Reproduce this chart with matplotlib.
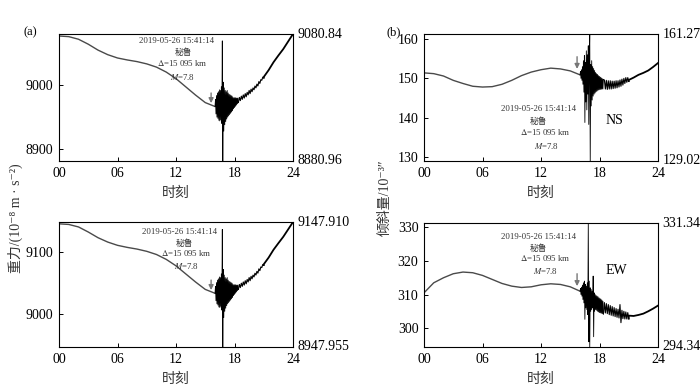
import numpy as np
import matplotlib
matplotlib.use("Agg")
import matplotlib.pyplot as plt

plt.rcParams['font.family'] = ['Liberation Serif', 'Noto Sans CJK SC', 'DejaVu Serif']
plt.rcParams['mathtext.fontset'] = 'stix'
plt.rcParams['axes.unicode_minus'] = False

# ---------------- data ----------------
hours_pre = [0, 1, 2, 3, 4, 5, 6, 7, 8, 9, 10, 11, 12, 13, 14, 15, 16]
hours_post = [21.0, 21.5, 22, 22.5, 23, 23.5, 24]
quake_t0, quake_t1 = 16.0, 18.4   # dense trace 0.05 h spacing
after_t0, after_t1 = 18.5, 21.0   # noisy trace 0.1 h spacing

# (a) gravity, upper station
g1_pre = [9077.7, 9076.7, 9072.6, 9064.8, 9055.5, 9048.3, 9043.1, 9040.0, 9037.4,
          9033.8, 9028.7, 9020.9, 9010.6, 8997.7, 8984.8, 8972.9, 8966.7]
g1_quake = [8967, 8978, 8955, 8984, 8950, 8988, 8948, 8990, 8945, 8993,
            8944, 8992, 8946, 8998, 8940, 9070, 8881, 9005, 8928, 8996,
            8938, 8992, 8943, 8990, 8947, 8992, 8950, 8988, 8952, 8986,
            8954, 8985, 8956, 8984, 8958, 8983, 8960, 8981, 8963, 8980,
            8965, 8981, 8967, 8980, 8969, 8980, 8971, 8980, 8973]
g1_after = [8981, 8976, 8983, 8978, 8985, 8980, 8987, 8982, 8989, 8985, 8992, 8987, 8994,
            8990, 8996, 8993, 8999, 8996, 9002, 8999, 9006, 9003, 9009, 9008, 9013, 9012]
g1_post = [9013.2, 9024.0, 9036.4, 9047.0, 9057.1, 9069.0, 9080.84]

# (a) gravity, lower station
g2_pre = [9145.0, 9144.0, 9140.0, 9131.9, 9122.8, 9115.8, 9110.6, 9107.3, 9104.6,
          9101.0, 9095.9, 9088.1, 9077.8, 9064.9, 9052.0, 9040.1, 9033.9]
g2_quake = [9034, 9045, 9022, 9051, 9017, 9055, 9015, 9057, 9012, 9060,
            9011, 9059, 9013, 9065, 9007, 9136, 8947.955, 9072, 8995, 9063,
            9005, 9059, 9010, 9057, 9014, 9059, 9017, 9055, 9019, 9053,
            9021, 9052, 9023, 9051, 9025, 9050, 9027, 9048, 9030, 9047,
            9032, 9048, 9034, 9047, 9036, 9047, 9038, 9047, 9040]
g2_after = [9048, 9043, 9050, 9045, 9052, 9047, 9054, 9049, 9056, 9052, 9059, 9054, 9061,
            9057, 9063, 9060, 9066, 9063, 9069, 9066, 9073, 9070, 9076, 9075, 9080, 9079]
g2_post = [9080.3, 9091.0, 9103.5, 9114.0, 9124.2, 9136.0, 9147.910]

# (b) tilt NS
ns_pre = [151.4, 151.2, 150.6, 149.5, 148.7, 148.0, 147.8, 147.9, 148.5, 149.5,
          150.7, 151.6, 152.2, 152.6, 152.4, 151.9, 150.9]
ns_quake = [150.9, 151.8, 150.0, 152.2, 149.5, 153.0, 148.5, 154.5, 146.5, 155.8,
            138.8, 154.0, 144.0, 157.0, 142.0, 156.0, 146.0, 158.3, 138.3, 154.0,
            161.27, 129.02, 153.5, 143.0, 154.5, 144.5, 153.0, 145.5, 152.5, 146.0,
            152.0, 146.3, 151.5, 146.6, 151.2, 146.8, 151.0, 147.0, 150.7, 147.1,
            150.5, 147.2, 150.3, 147.2, 150.1, 147.3, 149.9, 147.3, 149.7]
ns_after = [149.6, 147.3, 149.5, 147.2, 149.4, 147.3, 149.4, 147.3, 149.3, 147.4,
            149.3, 147.5, 149.4, 147.6, 149.4, 147.8, 149.6, 148.0, 149.8, 148.3,
            150.0, 148.7, 150.2, 149.0, 150.2, 149.3]
ns_post = [149.6, 150.2, 150.9, 151.4, 152.0, 152.9, 153.9]

# (b) tilt EW
ew_pre = [310.5, 313.5, 315.0, 316.2, 316.7, 316.5, 315.7, 314.5, 313.3, 312.5,
          312.1, 312.3, 312.9, 313.2, 313.0, 312.3, 311.0]
ew_quake = [311.0, 311.8, 310.0, 312.2, 309.5, 312.8, 308.5, 313.5, 307.5, 314.0,
            302.6, 313.0, 306.0, 312.5, 305.5, 313.5, 304.0, 331.34, 295.9, 314.0,
            294.34, 312.0, 305.0, 311.5, 305.5, 311.0, 306.0, 315.5, 297.4, 310.5,
            305.0, 310.0, 305.5, 309.7, 305.3, 309.5, 305.0, 309.3, 304.8, 309.0,
            304.6, 308.8, 304.5, 308.6, 304.4, 308.3, 304.3, 308.0, 304.2]
ew_after = [307.6, 304.5, 307.3, 304.3, 307.0, 304.0, 306.7, 303.8, 306.4, 303.6,
            306.1, 303.4, 305.8, 303.2, 305.6, 303.0, 307.0, 301.6, 305.3, 302.8,
            305.0, 302.7, 304.8, 302.7, 304.6, 302.8]
ew_post = [303.7, 303.6, 303.9, 304.3, 305.0, 305.8, 306.7]

panels = [
    dict(pre=g1_pre, quake=g1_quake, after=g1_after, post=g1_post,
         ylim=(8880.96, 9080.84), yticks=[8900, 9000], rlabels=['9080.84', '8880.96'],
         arrow=(15.6, 8988, 8972)),
    dict(pre=g2_pre, quake=g2_quake, after=g2_after, post=g2_post,
         ylim=(8947.955, 9147.910), yticks=[9000, 9100], rlabels=['9147.910', '8947.955'],
         arrow=(15.6, 9055, 9039)),
    dict(pre=ns_pre, quake=ns_quake, after=ns_after, post=ns_post,
         ylim=(129.02, 161.27), yticks=[130, 140, 150, 160], rlabels=['161.27', '129.02'],
         arrow=(15.7, 155.5, 152.4)),
    dict(pre=ew_pre, quake=ew_quake, after=ew_after, post=ew_post,
         ylim=(294.34, 331.34), yticks=[300, 310, 320, 330], rlabels=['331.34', '294.34'],
         arrow=(15.7, 316.2, 312.5)),
]

xticks = [0, 6, 12, 18, 24]
xticklabels = ['00', '06', '12', '18', '24']
event_lines = ['2019-05-26 15:41:14', '秘鲁', r'$\mathit{\Delta}$=15 095 km', r'$\mathit{M}$=7.8']

# text anchor positions (axes fraction) for the 4 event lines in each panel
text_pos = [
    [(0.504, 0.945), (0.53, 0.85), (0.528, 0.77), (0.53, 0.665)],
    [(0.517, 0.922), (0.538, 0.83), (0.545, 0.75), (0.545, 0.648)],
    [(0.489, 0.41), (0.489, 0.31), (0.517, 0.225), (0.524, 0.118)],
    [(0.489, 0.89), (0.489, 0.796), (0.517, 0.715), (0.52, 0.613)],
]

# ---------------- figure ----------------
fig = plt.figure(figsize=(7.0, 3.89), dpi=100)
W, H = 700, 389
boxes = [(59, 34, 293, 161), (59, 222, 293, 347), (424, 34, 658, 161), (424, 223, 658, 347)]
axes = []
for (l, t, r, b) in boxes:
    axes.append(fig.add_axes([l / W, 1 - b / H, (r - l) / W, (b - t) / H]))

for i, (ax, p) in enumerate(zip(axes, panels)):
    tq = np.linspace(quake_t0, quake_t1, len(p['quake']))
    ta = np.linspace(after_t0, after_t1, len(p['after']))
    ax.plot(hours_pre, p['pre'], color='#4a4a4a', lw=1.0)
    ax.plot(np.r_[hours_pre[-1], tq], np.r_[p['pre'][-1], p['quake']], color='black', lw=0.6)
    ax.plot(np.r_[tq[-1], ta], np.r_[p['quake'][-1], p['after']], color='black', lw=0.8)
    ax.plot(np.r_[ta[-1], hours_post], np.r_[p['after'][-1], p['post']], color='black', lw=1.3)

    ax.set_xlim(0, 24)
    ax.set_ylim(*p['ylim'])
    ax.set_xticks(xticks)
    ax.set_xticklabels(xticklabels)
    ax.set_yticks(p['yticks'])
    ax.tick_params(direction='in', length=3, width=0.7, labelsize=10, pad=4,
                   top=False, right=False)
    for s in ax.spines.values():
        s.set_linewidth(0.8)
    ax.set_xlabel('时刻', fontsize=10, labelpad=5, color='#333333')

    ax.text(1.02, 1.0, p['rlabels'][0], transform=ax.transAxes, ha='left', va='center', fontsize=10)
    ax.text(1.02, 0.0, p['rlabels'][1], transform=ax.transAxes, ha='left', va='center', fontsize=10)

    for (x, y), s in zip(text_pos[i], event_lines):
        ax.text(x, y, s, transform=ax.transAxes, ha='center', va='center',
                fontsize=6.3, color='#333333')

    ax_x, y0, y1 = p['arrow']
    ax.annotate('', xy=(ax_x, y1), xytext=(ax_x, y0),
                arrowprops=dict(arrowstyle='-|>', color='#777777', lw=1.0, mutation_scale=7,
                                shrinkA=0, shrinkB=0))

axes[2].text(0.816, 0.317, 'NS', transform=axes[2].transAxes, ha='center', va='center', fontsize=10)
axes[3].text(0.823, 0.62, 'EW', transform=axes[3].transAxes, ha='center', va='center', fontsize=10)

fig.text(30 / W, 1 - 32 / H, '(a)', ha='center', va='center', fontsize=9)
fig.text(394 / W, 1 - 32 / H, '(b)', ha='center', va='center', fontsize=9)

fig.text(15 / W, 1 - 218 / H, '重力/(10⁻⁸ m · s⁻²)', rotation=90,
         ha='center', va='center', fontsize=10, color='#333333')
fig.text(385 / W, 1 - 198 / H, '倾斜量/10⁻³″', rotation=90,
         ha='center', va='center', fontsize=10, color='#333333')

fig.savefig('out.png', dpi=100)
